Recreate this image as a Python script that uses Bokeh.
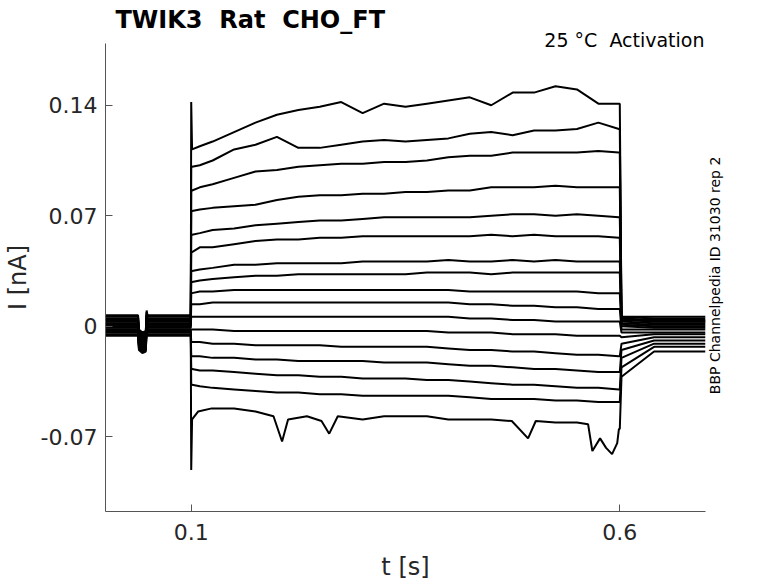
import math
from bokeh.plotting import figure
from bokeh.models import FixedTicker, LinearAxis, Range1d, Title
from bokeh.embed import file_html
from bokeh.resources import INLINE

# times [s] of the readings during the voltage step
t_step = [0.101, 0.11, 0.125, 0.15, 0.175, 0.2, 0.225, 0.25, 0.275, 0.3, 0.325,
          0.35, 0.375, 0.4, 0.425, 0.45, 0.475, 0.5, 0.525, 0.55, 0.575, 0.599]

# current [nA] of each sweep during the step (top to bottom)
step_currents = [
    [0.112, 0.114, 0.117, 0.123, 0.129, 0.134, 0.137, 0.139, 0.142, 0.135, 0.141,
     0.139, 0.141, 0.143, 0.145, 0.140, 0.148, 0.148, 0.152, 0.150, 0.141, 0.141],
    [0.101, 0.102, 0.105, 0.112, 0.115, 0.120, 0.113, 0.113, 0.115, 0.117, 0.118,
     0.117, 0.118, 0.119, 0.122, 0.123, 0.121, 0.124, 0.124, 0.125, 0.129, 0.125],
    [0.086, 0.088, 0.090, 0.094, 0.098, 0.099, 0.101, 0.102, 0.103, 0.103, 0.104,
     0.104, 0.105, 0.107, 0.108, 0.108, 0.110, 0.110, 0.110, 0.110, 0.111, 0.110],
    [0.073, 0.074, 0.075, 0.076, 0.077, 0.080, 0.082, 0.083, 0.083, 0.084, 0.084,
     0.085, 0.085, 0.086, 0.086, 0.088, 0.088, 0.088, 0.089, 0.088, 0.088, 0.088],
    [0.058, 0.059, 0.061, 0.062, 0.064, 0.065, 0.066, 0.067, 0.067, 0.068, 0.069,
     0.069, 0.069, 0.069, 0.069, 0.070, 0.071, 0.071, 0.070, 0.071, 0.070, 0.069],
    [0.047, 0.050, 0.050, 0.052, 0.054, 0.055, 0.055, 0.056, 0.056, 0.057, 0.057,
     0.057, 0.057, 0.057, 0.057, 0.058, 0.057, 0.058, 0.057, 0.057, 0.057, 0.056],
    [0.035, 0.036, 0.037, 0.039, 0.039, 0.040, 0.040, 0.040, 0.040, 0.041, 0.041,
     0.041, 0.041, 0.042, 0.041, 0.041, 0.042, 0.041, 0.042, 0.041, 0.041, 0.041],
    [0.028, 0.029, 0.030, 0.031, 0.032, 0.032, 0.033, 0.033, 0.033, 0.033, 0.033,
     0.033, 0.034, 0.034, 0.034, 0.033, 0.034, 0.034, 0.034, 0.034, 0.034, 0.034],
    [0.021, 0.022, 0.022, 0.023, 0.023, 0.023, 0.023, 0.023, 0.023, 0.023, 0.023,
     0.023, 0.023, 0.023, 0.022, 0.022, 0.022, 0.022, 0.022, 0.022, 0.021, 0.021],
    [0.014, 0.014, 0.015, 0.015, 0.015, 0.015, 0.015, 0.015, 0.015, 0.015, 0.015,
     0.015, 0.015, 0.015, 0.014, 0.014, 0.013, 0.013, 0.012, 0.012, 0.011, 0.011],
    [0.006, 0.006, 0.006, 0.006, 0.006, 0.006, 0.006, 0.006, 0.006, 0.006, 0.006,
     0.006, 0.006, 0.006, 0.005, 0.005, 0.004, 0.004, 0.003, 0.003, 0.003, 0.003],
    [-0.002, -0.002, -0.002, -0.003, -0.003, -0.003, -0.003, -0.003, -0.003, -0.003, -0.003,
     -0.003, -0.003, -0.004, -0.004, -0.004, -0.005, -0.005, -0.005, -0.006, -0.006, -0.006],
    [-0.010, -0.010, -0.011, -0.011, -0.012, -0.012, -0.012, -0.012, -0.013, -0.013, -0.013,
     -0.013, -0.013, -0.014, -0.015, -0.015, -0.016, -0.016, -0.017, -0.018, -0.018, -0.019],
    [-0.019, -0.019, -0.020, -0.020, -0.021, -0.021, -0.022, -0.022, -0.022, -0.022, -0.023,
     -0.023, -0.023, -0.024, -0.025, -0.025, -0.026, -0.027, -0.027, -0.028, -0.029, -0.029],
    [-0.027, -0.028, -0.028, -0.029, -0.030, -0.031, -0.031, -0.032, -0.032, -0.033, -0.033,
     -0.033, -0.034, -0.034, -0.035, -0.036, -0.037, -0.037, -0.038, -0.039, -0.039, -0.040],
    [-0.037, -0.038, -0.039, -0.040, -0.041, -0.042, -0.042, -0.043, -0.043, -0.044, -0.044,
     -0.044, -0.044, -0.044, -0.045, -0.046, -0.046, -0.046, -0.047, -0.047, -0.048, -0.048],
]

# the lowest sweep has its own dips, so its own readings
t_bottom = [0.101, 0.108, 0.124, 0.150, 0.175, 0.196, 0.206, 0.213, 0.235, 0.252, 0.261,
            0.271, 0.300, 0.325, 0.349, 0.375, 0.400, 0.425, 0.450, 0.474, 0.493, 0.502,
            0.525, 0.550, 0.563, 0.568, 0.577, 0.584, 0.591, 0.597, 0.599]
i_bottom = [-0.059, -0.054, -0.052, -0.052, -0.054, -0.057, -0.073, -0.059, -0.057, -0.060, -0.068,
            -0.057, -0.059, -0.057, -0.057, -0.057, -0.059, -0.059, -0.059, -0.060, -0.071, -0.060,
            -0.061, -0.061, -0.062, -0.079, -0.071, -0.077, -0.081, -0.074, -0.065]

# capacitive spikes at step onset
spike_top = 0.142
spike_bottom = -0.091

# holding current before the step (shared shape + per-sweep offset)
t_pre = [0.0, 0.038, 0.039, 0.043, 0.047, 0.048, 0.049, 0.0995]
pre_shape = [0.0, 0.0, -0.009, -0.011, -0.010, 0.003, 0.0, 0.0]
pre_hold = [0.007, 0.005, 0.006, 0.003, 0.004, 0.002, 0.001, 0.003, 0.0,
            -0.001, 0.001, -0.002, -0.003, -0.004, -0.002, -0.005, -0.006]

# tail just after the step and holding level afterwards
t_post = [0.602, 0.64, 0.7]
post_tail = [0.006, 0.006, 0.005, 0.005, 0.004, 0.003, 0.002, 0.001, 0.0,
             -0.002, -0.004, -0.007, -0.011, -0.015, -0.020, -0.026, -0.032]
post_hold = [0.006, 0.005, 0.004, 0.003, 0.003, 0.002, 0.001, 0.0, -0.001,
             -0.002, -0.004, -0.005, -0.007, -0.009, -0.011, -0.013, -0.016]

x_ticks = [0.1, 0.6]
x_tick_labels = ["0.1", "0.6"]
y_ticks = [-0.07, 0, 0.07, 0.14]
y_tick_labels = ["-0.07", "0", "0.07", "0.14"]

title_text = "TWIK3\u00a0 Rat\u00a0 CHO_FT"
sub_text = "25 °C\u00a0 Activation"
side_text = "BBP Channelpedia ID 31030 rep 2"
side_y = -0.043   # lower end of the side note, in nA

FONT = "DejaVu Sans"
TXT = "#262626"
AX = "#555555"

# build every sweep
xs, ys = [], []
n = len(pre_hold)
for k in range(n):
    if k < n - 1:
        ts, cs = t_step, step_currents[k]
    else:
        ts, cs = t_bottom, i_bottom
    x = list(t_pre) + [0.1] + list(ts) + [0.6] + t_post
    y = [pre_hold[k] + s for s in pre_shape]
    if k == 0:
        y.append(spike_top)
    elif k == n - 1:
        y.append(spike_bottom)
    else:
        y.append(cs[0])
    y += list(cs) + [cs[-1]] + [post_tail[k], post_hold[k], post_hold[k]]
    xs.append(x)
    ys.append(y)

p = figure(width=778, height=583, x_range=Range1d(0, 0.7), y_range=Range1d(-0.1173, 0.1791),
           output_backend="svg", toolbar_location=None,
           min_border_left=104, min_border_right=73, min_border_top=43, min_border_bottom=70)
p.multi_line(xs, ys, line_color="black", line_width=2)

p.grid.visible = False
p.outline_line_color = None
p.background_fill_color = "white"

p.title.text = title_text
p.title.align = "left"
p.title.offset = 10
p.title.standoff = 2
p.title.text_font = FONT
p.title.text_font_size = "24px"
p.title.text_font_style = "bold"
p.title.text_color = "black"

sub = Title(text=sub_text, align="right", standoff=-15, offset=1, text_font=FONT,
            text_font_size="19px", text_font_style="normal", text_color="black")
p.add_layout(sub, "above")

p.xaxis.ticker = FixedTicker(ticks=x_ticks)
p.xaxis.major_label_overrides = dict(zip(x_ticks, x_tick_labels))
p.yaxis.ticker = FixedTicker(ticks=y_ticks)
p.yaxis.major_label_overrides = dict(zip(y_ticks, y_tick_labels))
p.xaxis.axis_label = "t [s]"
p.yaxis.axis_label = "I [nA]"
for ax in (p.xaxis, p.yaxis):
    ax.axis_line_color = AX
    ax.major_tick_line_color = AX
    ax.major_tick_in = 7
    ax.major_tick_out = 0
    ax.minor_tick_line_color = None
    ax.major_label_text_font = FONT
    ax.major_label_text_font_size = "22px"
    ax.major_label_text_color = TXT
    ax.axis_label_text_font = FONT
    ax.axis_label_text_font_size = "24px"
    ax.axis_label_text_font_style = "normal"
    ax.axis_label_text_color = TXT
p.xaxis.major_label_standoff = 12
p.xaxis.axis_label_standoff = 10
p.yaxis.major_label_standoff = 8
p.yaxis.axis_label_standoff = 6

# side note on the right, reading upwards
side = LinearAxis(ticker=FixedTicker(ticks=[side_y]),
                  major_label_overrides={side_y: side_text},
                  major_label_orientation=math.pi / 2,
                  major_label_standoff=10,
                  major_label_text_font=FONT,
                  major_label_text_font_size="14px",
                  major_label_text_color="black",
                  axis_line_color=None, major_tick_line_color=None,
                  minor_tick_line_color=None, major_tick_in=0, major_tick_out=0)
p.add_layout(side, "right")

open("out.html", "w").write(file_html(p, INLINE))
